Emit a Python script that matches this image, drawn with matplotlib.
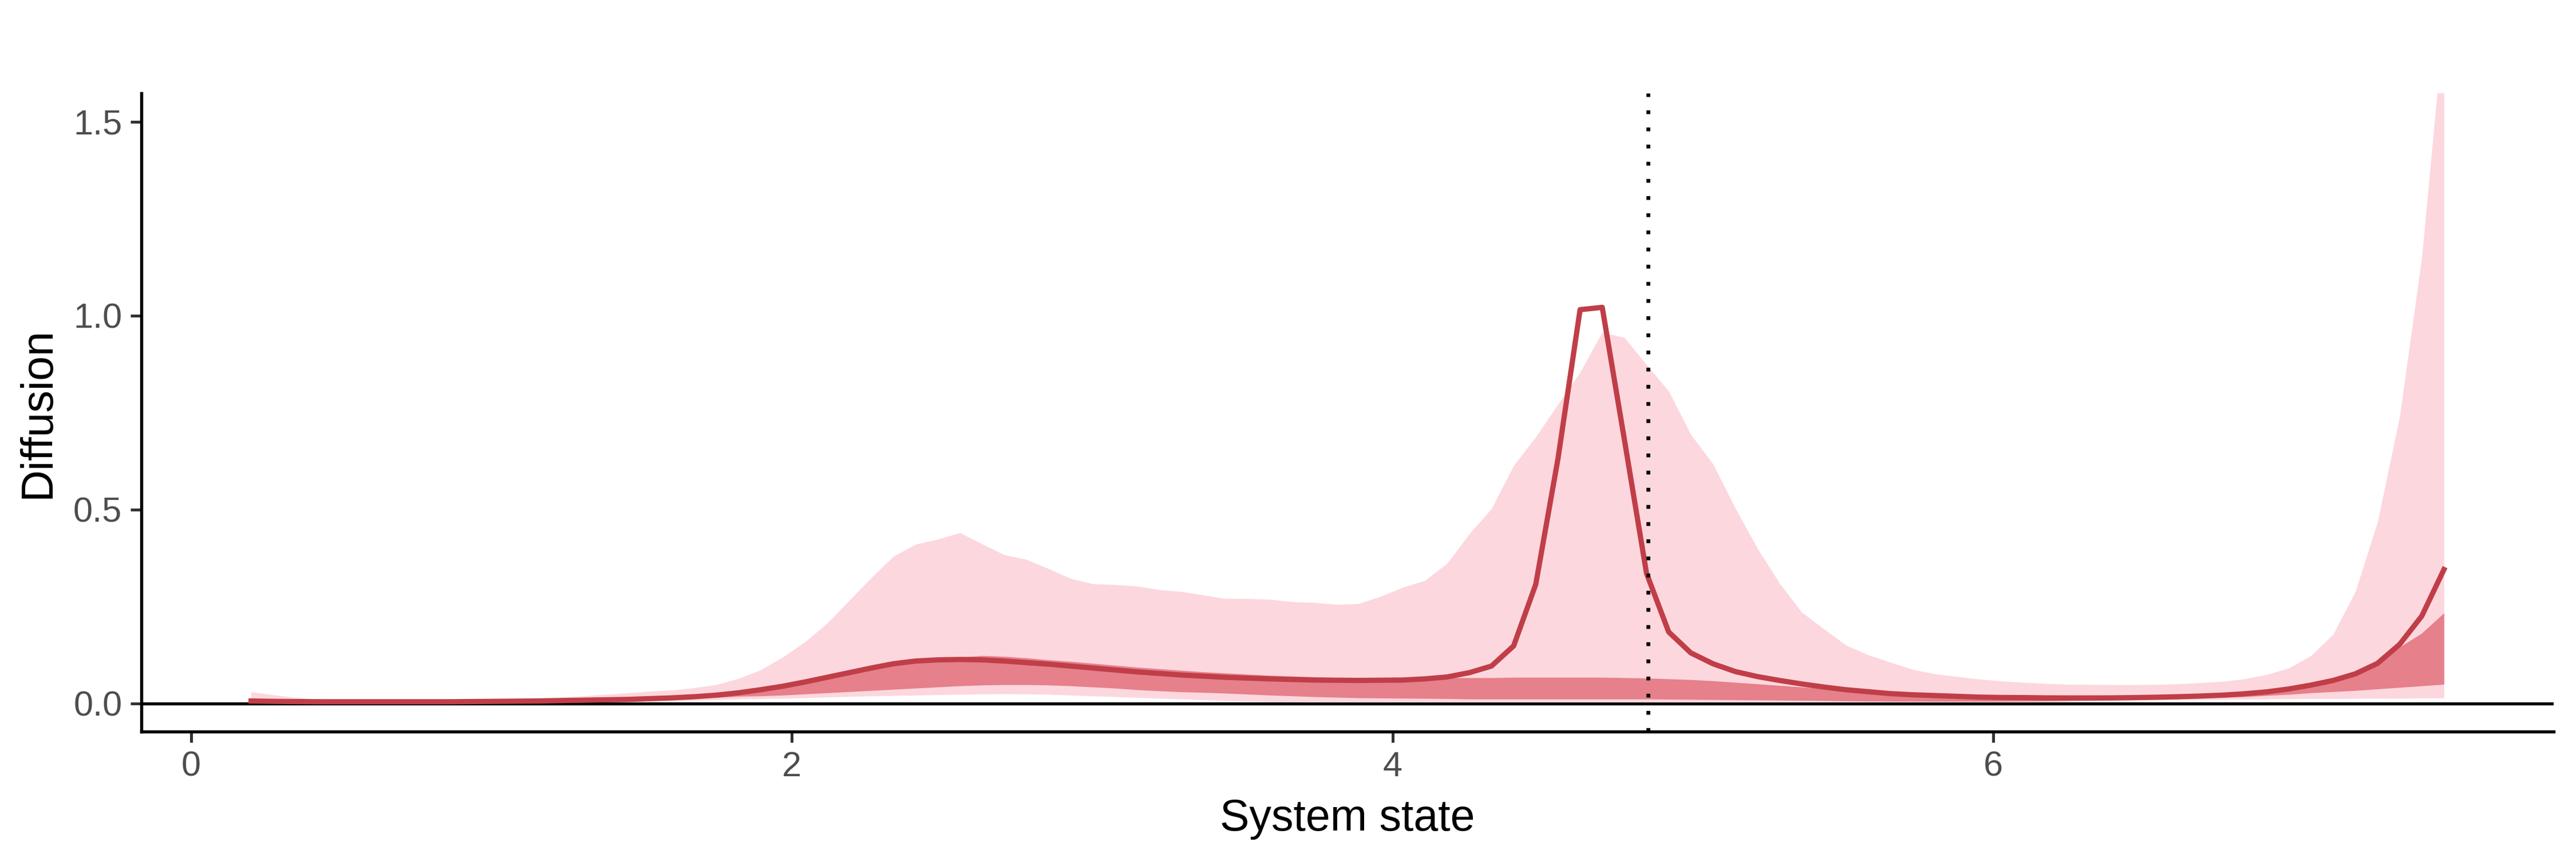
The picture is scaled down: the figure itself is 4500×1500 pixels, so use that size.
import numpy as np
import matplotlib
matplotlib.use("Agg")
import matplotlib.pyplot as plt

plt.rcParams['font.family'] = ['Liberation Sans', 'DejaVu Sans']

# evaluation grid of the system state (100 points from 0.2 to 7.5)
state = np.linspace(0.2, 7.5, 100)

# posterior median of the diffusion
diffusion_median = [
    0.006, 0.005, 0.0045, 0.004, 0.004, 0.004, 0.004, 0.004, 0.004, 0.004,
    0.0045, 0.005, 0.0055, 0.006, 0.007, 0.008, 0.009, 0.010, 0.012, 0.014,
    0.017, 0.021, 0.027, 0.035, 0.044, 0.055, 0.067, 0.079, 0.091, 0.102,
    0.109, 0.112, 0.113, 0.112, 0.109, 0.105, 0.101, 0.096, 0.091, 0.086,
    0.081, 0.077, 0.073, 0.070, 0.067, 0.065, 0.063, 0.0615, 0.060, 0.0595,
    0.059, 0.0595, 0.060, 0.063, 0.068, 0.079, 0.096, 0.148, 0.307, 0.63,
    1.015, 1.021, 0.68, 0.335, 0.184, 0.130, 0.102, 0.082, 0.069, 0.059,
    0.050, 0.042, 0.035, 0.030, 0.025, 0.022, 0.020, 0.018, 0.016, 0.015,
    0.0147, 0.014, 0.0138, 0.0138, 0.014, 0.0147, 0.0157, 0.017, 0.0187, 0.021,
    0.0246, 0.0295, 0.037, 0.047, 0.059, 0.076, 0.103, 0.152, 0.225, 0.345,
]

# inner (dark) credible band
inner_lower = [
    0.002, 0.002, 0.002, 0.002, 0.002, 0.002, 0.002, 0.002, 0.002, 0.002,
    0.002, 0.0025, 0.003, 0.0035, 0.004, 0.005, 0.006, 0.007, 0.009, 0.011,
    0.013, 0.015, 0.018, 0.019, 0.021, 0.024, 0.027, 0.030, 0.033, 0.036,
    0.039, 0.042, 0.045, 0.047, 0.048, 0.048, 0.047, 0.045, 0.042, 0.039,
    0.035, 0.032, 0.0295, 0.028, 0.026, 0.0235, 0.021, 0.019, 0.017, 0.0155,
    0.014, 0.0135, 0.013, 0.0125, 0.012, 0.011, 0.011, 0.011, 0.011, 0.011,
    0.011, 0.011, 0.011, 0.011, 0.0105, 0.010, 0.0095, 0.009, 0.0085, 0.008,
    0.0075, 0.007, 0.006, 0.0055, 0.005, 0.005, 0.005, 0.005, 0.005, 0.005,
    0.0055, 0.006, 0.007, 0.008, 0.009, 0.010, 0.011, 0.012, 0.014, 0.015,
    0.017, 0.020, 0.023, 0.027, 0.030, 0.033, 0.037, 0.041, 0.045, 0.049,
]
inner_upper = [
    0.005, 0.004, 0.0035, 0.0035, 0.0035, 0.0035, 0.0035, 0.0035, 0.0035, 0.0035,
    0.004, 0.0045, 0.005, 0.006, 0.007, 0.008, 0.009, 0.011, 0.013, 0.015,
    0.017, 0.021, 0.026, 0.033, 0.042, 0.052, 0.063, 0.075, 0.087, 0.099,
    0.108, 0.114, 0.119, 0.123, 0.121, 0.117, 0.112, 0.108, 0.103, 0.098,
    0.093, 0.089, 0.085, 0.081, 0.078, 0.075, 0.072, 0.070, 0.068, 0.066,
    0.065, 0.065, 0.065, 0.065, 0.066, 0.066, 0.066, 0.067, 0.067, 0.067,
    0.067, 0.067, 0.066, 0.065, 0.063, 0.061, 0.058, 0.054, 0.050, 0.046,
    0.042, 0.038, 0.033, 0.028, 0.024, 0.021, 0.019, 0.017, 0.015, 0.014,
    0.013, 0.013, 0.0125, 0.0125, 0.013, 0.014, 0.015, 0.016, 0.018, 0.020,
    0.024, 0.029, 0.036, 0.046, 0.058, 0.076, 0.102, 0.145, 0.181, 0.233,
]

# outer (pale) credible band
outer_lower = [
    0.001, 0.001, 0.001, 0.001, 0.001, 0.001, 0.001, 0.001, 0.001, 0.001,
    0.001, 0.001, 0.001, 0.002, 0.002, 0.003, 0.004, 0.005, 0.006, 0.007,
    0.008, 0.009, 0.011, 0.012, 0.013, 0.014, 0.016, 0.0175, 0.019, 0.020,
    0.021, 0.022, 0.023, 0.024, 0.0245, 0.024, 0.023, 0.021, 0.019, 0.017,
    0.015, 0.013, 0.011, 0.009, 0.007, 0.006, 0.005, 0.004, 0.003, 0.003,
    0.003, 0.003, 0.003, 0.003, 0.003, 0.003, 0.003, 0.003, 0.003, 0.003,
    0.003, 0.003, 0.003, 0.003, 0.003, 0.003, 0.003, 0.003, 0.003, 0.003,
    0.003, 0.003, 0.003, 0.003, 0.003, 0.003, 0.003, 0.003, 0.003, 0.003,
    0.003, 0.004, 0.005, 0.006, 0.007, 0.008, 0.0085, 0.009, 0.0095, 0.010,
    0.0105, 0.011, 0.0115, 0.012, 0.012, 0.0125, 0.013, 0.013, 0.0135, 0.0138,
]
outer_upper = [
    0.0295, 0.022, 0.015, 0.011, 0.010, 0.009, 0.009, 0.009, 0.009, 0.009,
    0.009, 0.010, 0.012, 0.014, 0.016, 0.019, 0.023, 0.027, 0.031, 0.034,
    0.040, 0.048, 0.064, 0.086, 0.119, 0.158, 0.206, 0.265, 0.324, 0.379,
    0.410, 0.423, 0.440, 0.411, 0.383, 0.371, 0.347, 0.322, 0.308, 0.306,
    0.302, 0.293, 0.288, 0.279, 0.270, 0.270, 0.268, 0.262, 0.260, 0.255,
    0.257, 0.276, 0.299, 0.317, 0.361, 0.437, 0.502, 0.613, 0.687, 0.771,
    0.854, 0.957, 0.943, 0.873, 0.805, 0.693, 0.617, 0.504, 0.400, 0.310,
    0.235, 0.192, 0.150, 0.125, 0.106, 0.0875, 0.076, 0.069, 0.0625, 0.0575,
    0.054, 0.051, 0.049, 0.0485, 0.048, 0.048, 0.0485, 0.050, 0.053, 0.0565,
    0.063, 0.074, 0.091, 0.123, 0.178, 0.288, 0.4675, 0.739, 1.150, 1.76,
]

threshold = 4.85

x_ticks = [0, 2, 4, 6]
y_ticks = [0.0, 0.5, 1.0, 1.5]
y_tick_labels = ['0.0', '0.5', '1.0', '1.5']

fig = plt.figure(figsize=(15, 5), dpi=300)
ax = fig.add_axes([0.0549, 0.1473, 0.9364, 0.744])

ax.axhline(0, color='black', lw=1.3, zorder=1)
ax.fill_between(state, outer_lower, outer_upper, color='#FCD7DE', lw=0, zorder=2)
ax.fill_between(state, inner_lower, inner_upper, color='#E6808A', lw=0, zorder=3)
ax.plot(state, diffusion_median, color='#C03E48', lw=2.2, zorder=4)
ax.axvline(threshold, color='black', lw=1.6, linestyle=(0, (1, 3.5)), zorder=5)

ax.set_xlim(-0.165, 7.865)
ax.set_ylim(-0.073, 1.573)
ax.set_xticks(x_ticks)
ax.set_yticks(y_ticks)
ax.set_yticklabels(y_tick_labels)

for side in ['top', 'right']:
    ax.spines[side].set_visible(False)
for side in ['left', 'bottom']:
    ax.spines[side].set_linewidth(1.3)
    ax.spines[side].set_color('black')

ax.tick_params(axis='both', length=4.6, width=1.2, color='#333333',
               labelsize=14.7, labelcolor='#4D4D4D', pad=3.5)

ax.set_xlabel('System state', fontsize=18.5, color='black', labelpad=6)
ax.set_ylabel('Diffusion', fontsize=18.5, color='black', labelpad=6)

fig.savefig('out.png', dpi=300)
